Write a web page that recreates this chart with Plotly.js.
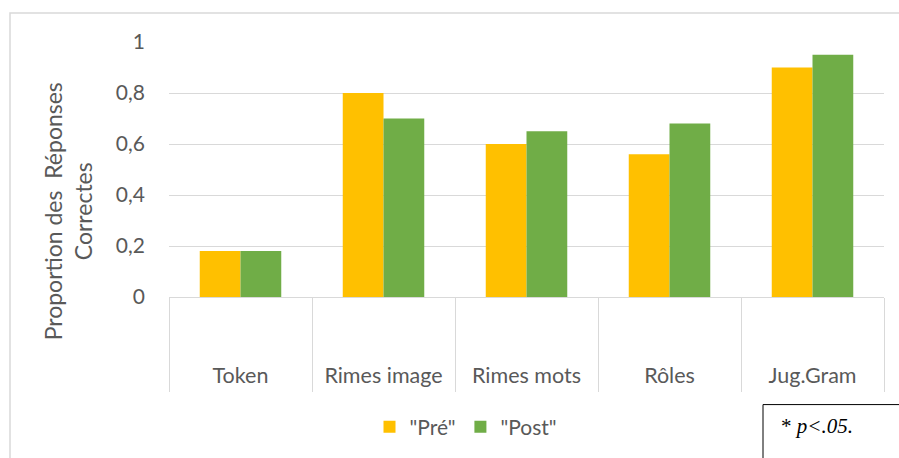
<!DOCTYPE html>
<html><head><meta charset="utf-8">
<script src="https://cdn.plot.ly/plotly-3.0.1.min.js"></script>
<style>body{margin:0;background:#fff}#c{width:899px;height:458px}</style>
</head><body><div id="c"></div>
<script>
const categories = ["Token", "Rimes image", "Rimes mots", "Rôles", "Jug.Gram"];
const pre = [0.18, 0.80, 0.60, 0.56, 0.90];
const post = [0.18, 0.70, 0.65, 0.68, 0.95];
const yTicks = [0, 0.2, 0.4, 0.6, 0.8, 1];
const seriesNames = ['"Pré"', '"Post"'];

const W = 899, H = 458, L = 169, R = 15, T = 42, B = 160;
const pw = W - L - R, ph = H - T - B;
const px = x => (x - L) / pw;
const py = y => (H - B - y) / ph;

const fam = "Lato, 'Open Sans', sans-serif";
const col = "#595959";

const traces = [
  {type: "bar", x: categories, y: pre, name: seriesNames[0], marker: {color: "#FFC000"}},
  {type: "bar", x: categories, y: post, name: seriesNames[1], marker: {color: "#70AD47"}}
];

const layout = {
  width: W, height: H,
  margin: {l: L, r: R, t: T, b: B},
  paper_bgcolor: "#fff", plot_bgcolor: "#fff",
  separators: ", ",
  font: {family: fam, color: col, size: 20},
  barmode: "group", bargap: 0.43, bargroupgap: 0,
  xaxis: {
    type: "category", tickson: "boundaries", ticks: "outside", ticklen: 94,
    tickcolor: "#D9D9D9", tickwidth: 1, showline: true, linecolor: "#D9D9D9",
    linewidth: 1, showgrid: false, ticklabelstandoff: 59,
    tickfont: {family: fam, color: col, size: 21.5}
  },
  yaxis: {
    range: [0, 1], tickvals: yTicks, ticktext: yTicks.map(v => String(v).replace(".", ",")),
    showgrid: true, gridcolor: "#D9D9D9", gridwidth: 1, zeroline: false,
    showline: false, ticks: "", ticklabelstandoff: 23,
    tickfont: {family: fam, color: col, size: 21}
  },
  showlegend: true,
  legend: {orientation: "h", x: px(466), xanchor: "center", y: py(427), yanchor: "middle",
           font: {family: fam, color: col, size: 21}, traceorder: "normal",
           itemwidth: 30},
  shapes: [
    {type: "rect", xref: "paper", yref: "paper", x0: px(10), x1: px(910), y0: py(13), y1: py(470),
     line: {color: "#D9D9D9", width: 1.5}, fillcolor: "rgba(0,0,0,0)"},
    {type: "rect", xref: "paper", yref: "paper", x0: px(763), x1: px(905), y0: py(406), y1: py(470),
     line: {color: "#000", width: 1}, fillcolor: "#fff"}
  ],
  annotations: [
    {xref: "paper", yref: "paper", x: px(68), y: py(212), xanchor: "center", yanchor: "middle",
     text: "Proportion des  Réponses<br>Correctes", textangle: -90, showarrow: false,
     font: {family: fam, color: col, size: 23}},
    {xref: "paper", yref: "paper", x: px(779), y: py(428), xanchor: "left", yanchor: "middle",
     text: "* <i>p<.05.</i>", showarrow: false,
     font: {family: "'Liberation Serif', serif", color: "#000", size: 21}}
  ]
};

Plotly.newPlot("c", traces, layout, {displayModeBar: false, staticPlot: true});
</script></body></html>
